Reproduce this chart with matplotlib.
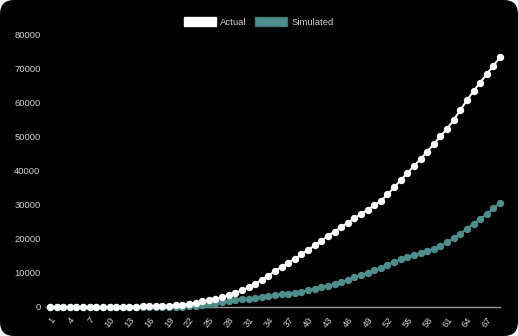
import matplotlib.pyplot as plt
from matplotlib.patches import FancyBboxPatch, Patch

plt.rcParams['font.family'] = ['Liberation Sans', 'DejaVu Sans']

# day numbers along the x axis
days = list(range(1, 70))

actual = [0, 0, 1, 1, 2, 3, 5, 8, 12, 18,
          50, 70, 100, 130, 170, 220, 280, 350, 430, 530,
          680, 950, 1300, 1650, 2000, 2400, 2900, 3450, 4100, 4900,
          5800, 6800, 8000, 9200, 10500, 11800, 13000, 14200, 15500, 16800,
          18100, 19500, 20900, 22200, 23500, 24800, 26100, 27300, 28600, 29900,
          31200, 33100, 35200, 37300, 39400, 41500, 43500, 45700, 47900, 50200,
          52400, 55000, 57900, 60800, 63500, 66000, 68500, 71000, 73400]

simulated = [0, 0, 0, 0, 0, 0, 0, 0, 0, 0,
             0, 0, 0, 0, 0, 0, 0, 0, 0, 0,
             50, 150, 350, 600, 900, 1200, 1500, 1800, 2050, 2300,
             2500, 2700, 2950, 3200, 3450, 3700, 3950, 4250, 4550, 4900,
             5300, 5800, 6300, 6800, 7400, 8000, 8700, 9400, 10100, 10800,
             11600, 12400, 13200, 14000, 14700, 15300, 15900, 16500, 17200, 18000,
             19000, 20200, 21600, 23000, 24500, 25800, 27400, 29000, 30600]

teal = '#4e8f8d'
grey = '#d0d0d0'

fig = plt.figure(figsize=(5.18, 3.36), dpi=100)
fig.patch.set_facecolor('white')
# black card with rounded corners
card = FancyBboxPatch((0, 0), 5.18, 3.36, boxstyle='round,pad=0,rounding_size=0.14',
                      transform=fig.dpi_scale_trans, facecolor='black', edgecolor='none',
                      zorder=-10)
fig.patches.append(card)

ax = fig.add_axes([46 / 518, 1 - 307 / 336, 454 / 518, 272 / 336])
ax.set_facecolor('none')

x = list(range(len(days)))
ax.plot(x, simulated, color=teal, lw=1.5, marker='o', ms=4.3, mec=teal, mfc=teal,
        label='Simulated', zorder=2, clip_on=False)
ax.plot(x, actual, color='white', lw=1.5, marker='o', ms=4.3, mec='white', mfc='white',
        label='Actual', zorder=3, clip_on=False)

ax.set_xlim(-0.6, 68)
ax.set_ylim(0, 80000)
ax.set_yticks(range(0, 80001, 10000))
ax.set_yticklabels([str(v) for v in range(0, 80001, 10000)])
ax.set_xticks(x[::3])
ax.set_xticklabels([str(d) for d in days[::3]], rotation=52, ha='right',
                   rotation_mode='anchor')
ax.tick_params(axis='both', colors=grey, labelsize=6.8, length=0)
ax.tick_params(axis='x', pad=6)
ax.tick_params(axis='y', pad=4)

for s in ['top', 'right', 'left']:
    ax.spines[s].set_visible(False)
ax.spines['bottom'].set_color('#9a9a9a')
ax.spines['bottom'].set_linewidth(1)
ax.spines['bottom'].set_zorder(1)

# legend with filled boxes
handles = [Patch(facecolor='white', edgecolor='white', label='Actual'),
           Patch(facecolor=teal, edgecolor='#3f7775', label='Simulated')]
leg = fig.legend(handles=handles, loc='center', bbox_to_anchor=(0.5, 1 - 22 / 336),
                 ncol=2, frameon=False, fontsize=6.8, handlelength=3.4,
                 handleheight=1.1, handletextpad=0.45, columnspacing=0.9,
                 labelcolor=grey)

fig.savefig('out.png', dpi=100, facecolor=fig.get_facecolor())
